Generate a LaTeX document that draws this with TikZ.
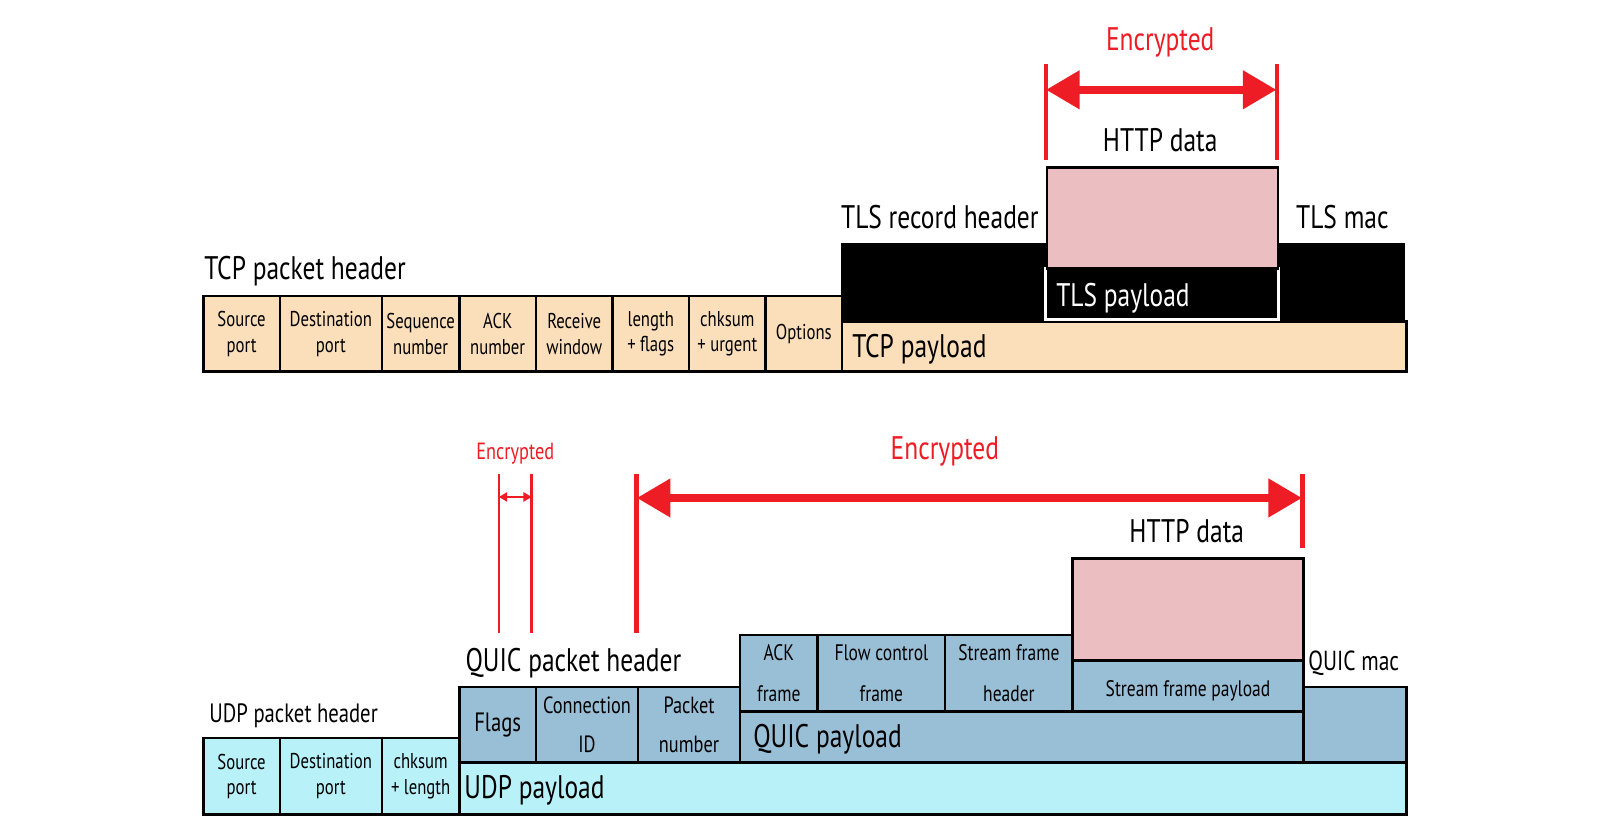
\documentclass[tikz,border=0pt]{standalone}
\usepackage{fontspec}
\setmainfont{PT Sans}[FakeStretch=0.78]
\usetikzlibrary{arrows.meta}
\definecolor{tcpc}{HTML}{FBDEBA}
\definecolor{udpc}{HTML}{B9F1F9}
\definecolor{quicc}{HTML}{99BFD7}
\definecolor{httpc}{HTML}{EBBEC1}
\definecolor{encred}{HTML}{EE1C24}
\begin{document}
\begin{tikzpicture}[x=1pt,y=-1pt,
  cell/.style={draw=black, line width=2.5pt, anchor=north west, inner sep=0pt, align=center, text=black},
  tcpcell/.style={cell, fill=tcpc, minimum height=74pt, font=\fontsize{21}{25}\selectfont},
  udpcell/.style={cell, fill=udpc, minimum height=75pt, font=\fontsize{21}{25}\selectfont},
  qhcell/.style={cell, fill=quicc, minimum height=74pt, font=\fontsize{23}{39}\selectfont},
  frcell/.style={cell, fill=quicc, minimum height=75pt, font=\fontsize{22}{40}\selectfont},
  big/.style={inner sep=0pt, font=\fontsize{32}{36}\selectfont},
  redline/.style={draw=encred, line width=4pt},
  thinred/.style={draw=encred, line width=2.5pt},
  bigarrow/.style={draw=encred, line width=8pt, {Triangle[length=33pt,width=36pt]}-{Triangle[length=33pt,width=36pt]}},
  smallarrow/.style={draw=encred, line width=2pt, {Triangle[length=8pt,width=9pt]}-{Triangle[length=8pt,width=9pt]}}
]
\useasboundingbox[fill=white] (0,0) rectangle (1568,813.4);

% ---------- TCP ----------
\node[tcpcell, minimum width=75pt]  (tsrc) at (198,289) {Source\\port};
\node[tcpcell, minimum width=100pt] (tdst) at (273,289) {Destination\\port};
\node[tcpcell, minimum width=76pt]  (tseq) at (373,289) {Sequence\\number};
\node[tcpcell, minimum width=75pt]  (tack) at (449,289) {ACK\\number};
\node[tcpcell, minimum width=75pt]  (trw)  at (524,289) {Receive\\window};
\node[tcpcell, minimum width=75pt]  (tlen) at (599,289) {length\\+ flags};
\node[tcpcell, minimum width=75pt]  (tchk) at (674,289) {chksum\\+ urgent};
\node[tcpcell, minimum width=75pt]  (topt) at (749,289) {Options};
\node[cell, fill=tcpc, minimum width=553pt, minimum height=49pt] (tcppay) at (824,314) {};
\node[anchor=north west, fill=black, inner sep=0pt, minimum width=553pt, minimum height=76pt] (tlsblk) at (824,238) {};
\node[anchor=north west, fill=black, draw=white, line width=3pt, inner sep=0pt, minimum width=228pt, minimum height=50pt] (tlspay) at (1023,262) {};
\node[cell, fill=httpc, minimum width=226pt, minimum height=99pt] (http1) at (1025,163) {};

\node[big, anchor=base west] (ltcph) at (200,274) {TCP packet header};
\node[big, anchor=base east] (ltlsh) at (1018,224) {TLS record header};
\node[big, anchor=base west] (ltlsm) at (1270,224) {TLS mac};
\node[big, anchor=base west, text=white] (ltlsp) at (1035,300) {TLS payload};
\node[big, anchor=base west] (ltcpp) at (835,350) {TCP payload};
\node[big, anchor=base] (lhttp1) at (1137,148) {HTTP data};
\node[big, anchor=base, text=encred] (lenc1) at (1137,49) {Encrypted};

\coordinate (r1t) at (1025,63);  \coordinate (r1b) at (1025,157);
\coordinate (r2t) at (1251,63);  \coordinate (r2b) at (1251,157);
\coordinate (a1l) at (1025,88);  \coordinate (a1r) at (1251,88);
\draw[redline] (r1t) -- (r1b);
\draw[redline] (r2t) -- (r2b);
\draw[bigarrow] (a1l) -- (a1r);

% ---------- UDP / QUIC ----------
\node[udpcell, minimum width=75pt]  (usrc) at (198,722) {Source\\port};
\node[udpcell, minimum width=100pt] (udst) at (273,722) {Destination\\port};
\node[udpcell, minimum width=76pt]  (uchk) at (373,722) {chksum\\+ length};
\node[cell, fill=udpc, minimum width=928pt, minimum height=51pt] (udppay) at (449,746) {};

\node[qhcell, minimum width=75pt, font=\fontsize{26}{30}\selectfont]  (qfl)  at (449,672) {Flags};
\node[qhcell, minimum width=100pt] (qcid) at (524,672) {Connection\\ID};
\node[qhcell, minimum width=100pt] (qpn)  at (624,672) {Packet\\number};
\node[cell, fill=quicc, minimum width=552pt, minimum height=50pt] (qpay) at (724,696) {};
\node[cell, fill=quicc, minimum width=101pt, minimum height=74pt] (qmac) at (1276,672) {};

\node[frcell, minimum width=76pt]  (fack) at (724,621) {ACK\\frame};
\node[frcell, minimum width=125pt] (ffc)  at (800,621) {Flow control\\frame};
\node[frcell, minimum width=125pt] (fsh)  at (925,621) {Stream frame\\header};
\node[cell, fill=quicc, minimum width=226pt, minimum height=50pt, text depth=0pt, text height=20pt, font=\fontsize{22}{26}\selectfont] (fsp) at (1050,646) {Stream frame payload};
\node[cell, fill=httpc, minimum width=226pt, minimum height=100pt] (http2) at (1050,546) {};

\node[inner sep=0pt, anchor=base west, font=\fontsize{26}{30}\selectfont] (ludph) at (205,708) {UDP packet header};
\node[big, anchor=base west] (lquich) at (456,658) {QUIC packet header};
\node[inner sep=0pt, anchor=base west, font=\fontsize{27}{30}\selectfont] (lqmac) at (1282,657) {QUIC mac};
\node[big, anchor=base west] (lqpay) at (738,733) {QUIC payload};
\node[big, anchor=base west] (ludpp) at (455,783) {UDP payload};
\node[big, anchor=base] (lhttp2) at (1163,532) {HTTP data};
\node[big, anchor=base, text=encred] (lenc2) at (926,450) {Encrypted};
\node[inner sep=0pt, anchor=base, text=encred, font=\fontsize{23}{26}\selectfont] (lenc3) at (505,450) {Encrypted};

\coordinate (s1t) at (489,465); \coordinate (s1b) at (489,620);
\coordinate (s2t) at (521,465); \coordinate (s2b) at (521,620);
\coordinate (s3t) at (624,465); \coordinate (s3b) at (624,620);
\coordinate (s4t) at (1276,465); \coordinate (s4b) at (1276,537);
\coordinate (a2l) at (489,487); \coordinate (a2r) at (521,487);
\coordinate (a3l) at (624,488); \coordinate (a3r) at (1276,488);
\draw[thinred] (s1t) -- (s1b);
\draw[thinred] (s2t) -- (s2b);
\draw[draw=encred, line width=5pt] (s3t) -- (s3b);
\draw[draw=encred, line width=5pt] (s4t) -- (s4b);
\draw[smallarrow] (a2l) -- (a2r);
\draw[bigarrow] (a3l) -- (a3r);
\end{tikzpicture}
\end{document}
